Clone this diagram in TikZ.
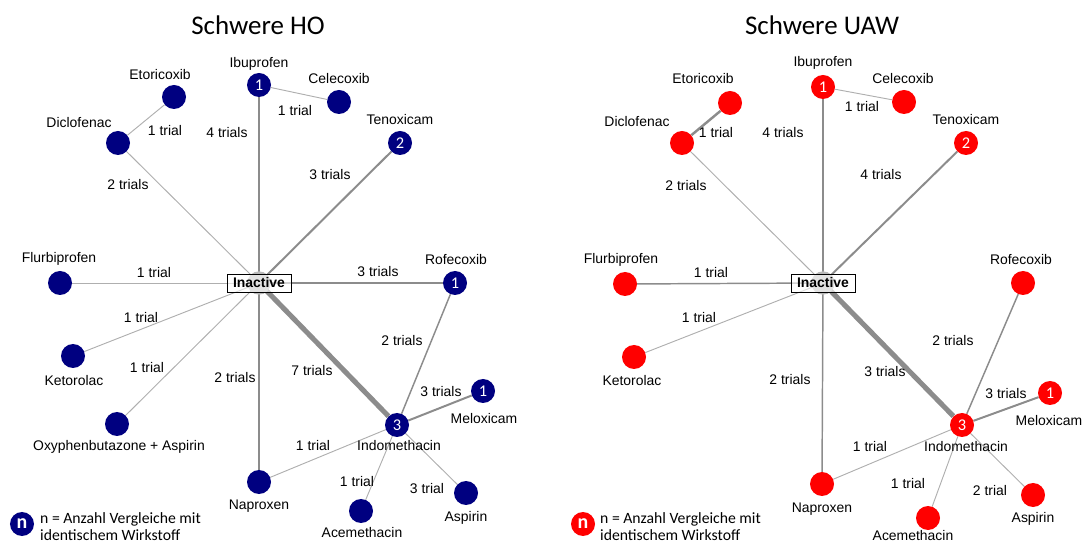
\documentclass[tikz,border=0pt]{standalone}
\usepackage{fontspec}
\setmainfont{Liberation Sans}
\newfontfamily\calibri{Carlito}
\usetikzlibrary{backgrounds}
\definecolor{hoblue}{RGB}{0,0,128}
\definecolor{uawred}{RGB}{255,0,0}
\definecolor{linegray}{RGB}{140,140,140}
\definecolor{lightgray}{RGB}{175,175,175}

\begin{document}
\begin{tikzpicture}[
    x=0.03cm, y=-0.03cm,
    font=\fontsize{11.9}{13}\selectfont,
    drug/.style={circle, inner sep=0pt, minimum size=0.72cm, text=white, font=\calibri\fontsize{14}{14}\selectfont},
    ho/.style={drug, fill=hoblue},
    uaw/.style={drug, fill=uawred},
    drugtext/.style={inner sep=0pt},
    trials/.style={inner sep=0pt},
    hub/.style={circle, fill=gray!55, minimum size=0.7cm, inner sep=0pt},
    inactive/.style={draw, fill=white, fill opacity=0.6, text opacity=1, minimum width=1.92cm, minimum height=0.54cm, inner sep=0pt, font=\bfseries\fontsize{11.9}{13}\selectfont},
    paneltitle/.style={font=\calibri\fontsize{23}{26}\selectfont},
    keytext/.style={align=left, anchor=west, inner sep=0pt, font=\calibri\fontsize{13.4}{14.5}\selectfont},
    wa/.style={lightgray, line width=0.8pt},
    wb/.style={linegray, line width=1.25pt},
    wc/.style={linegray, line width=1.7pt},
    wd/.style={linegray, line width=2.1pt},
    we/.style={linegray, line width=4.3pt}
]
\useasboundingbox (0,0) rectangle (1083,544);

% Schwere HO (left)
\node[paneltitle] (tHO) at (258,25) {Schwere HO};
\node[inactive] (inL) at (259,283) {Inactive};
\node[ho] (ibuL) at (259,85) {1};
\node[ho] (celL) at (339,102) {};
\node[ho] (etoL) at (174,97) {};
\node[ho] (dicL) at (118,143) {};
\node[ho] (tenL) at (400,143) {2};
\node[ho] (fluL) at (60,283) {};
\node[ho] (rofL) at (455,283) {1};
\node[ho] (ketL) at (73,356) {};
\node[ho] (oxyL) at (117,424) {};
\node[ho] (napL) at (259,482) {};
\node[ho] (indL) at (397,425) {3};
\node[ho] (melL) at (483,391) {1};
\node[ho] (aceL) at (361,511) {};
\node[ho] (aspL) at (466,493) {};

\node[drugtext] (ibuLt) at (259,64) {Ibuprofen};
\node[drugtext] (celLt) at (339,79) {Celecoxib};
\node[drugtext] (etoLt) at (160,75) {Etoricoxib};
\node[drugtext] (dicLt) at (79,123) {Diclofenac};
\node[drugtext] (tenLt) at (400,120) {Tenoxicam};
\node[drugtext] (fluLt) at (59,259) {Flurbiprofen};
\node[drugtext] (rofLt) at (456,260) {Rofecoxib};
\node[drugtext] (ketLt) at (74,381) {Ketorolac};
\node[drugtext] (oxyLt) at (119,447) {Oxyphenbutazone + Aspirin};
\node[drugtext] (napLt) at (259,506) {Naproxen};
\node[drugtext] (indLt) at (399,446) {Indomethacin};
\node[drugtext] (melLt) at (484,419) {Meloxicam};
\node[drugtext] (aceLt) at (362,533) {Acemethacin};
\node[drugtext] (aspLt) at (466,518) {Aspirin};

\begin{scope}[on background layer]
\foreach \i/\j/\w in {inL.center/dicL/wa, dicL/etoL/wa, inL.center/ibuL/wc, ibuL/celL/wa,
    inL.center/tenL/wc, inL.center/fluL/wa, inL.center/rofL/wc, inL.center/ketL/wa,
    inL.center/oxyL/wa, inL.center/napL/wb, inL.center/indL/we, rofL/indL/wb,
    indL/melL/wc, indL/napL/wa, indL/aceL/wa, indL/aspL/wa}
  \draw[\w] (\i) -- (\j);
\node[hub] (hubL) at (inL.center) {};
\end{scope}

\node[trials] (eL1) at (165,131) {1 trial};
\node[trials] (eL2) at (128,185) {2 trials};
\node[trials] (eL3) at (227,133) {4 trials};
\node[trials] (eL4) at (295,111) {1 trial};
\node[trials] (eL5) at (330,175) {3 trials};
\node[trials] (eL6) at (154,273) {1 trial};
\node[trials] (eL7) at (378,272) {3 trials};
\node[trials] (eL8) at (141,318) {1 trial};
\node[trials] (eL9) at (147,368) {1 trial};
\node[trials] (eL10) at (235,378) {2 trials};
\node[trials] (eL11) at (312,371) {7 trials};
\node[trials] (eL12) at (402,341) {2 trials};
\node[trials] (eL13) at (441,392) {3 trials};
\node[trials] (eL14) at (313,446) {1 trial};
\node[trials] (eL15) at (357,482) {1 trial};
\node[trials] (eL16) at (427,489) {3 trial};

\node[ho, font=\calibri\bfseries\fontsize{17}{17}\selectfont] (keyL) at (22,524) {n};
\node[keytext] (keyLt) at (40,527) {n = Anzahl Vergleiche mit\\identischem Wirkstoff};

% Schwere UAW (right)
\node[paneltitle] (tUAW) at (822,25) {Schwere UAW};
\node[inactive] (inR) at (823,283) {Inactive};
\node[uaw] (ibuR) at (823,87) {1};
\node[uaw] (celR) at (904,102) {};
\node[uaw] (etoR) at (730,103) {};
\node[uaw] (dicR) at (682,143) {};
\node[uaw] (tenR) at (966,143) {2};
\node[uaw] (fluR) at (625,284) {};
\node[uaw] (rofR) at (1023,283) {};
\node[uaw] (ketR) at (634,357) {};
\node[uaw] (napR) at (822,484) {};
\node[uaw] (indR) at (962,425) {3};
\node[uaw] (melR) at (1050,393) {1};
\node[uaw] (aceR) at (928,518) {};
\node[uaw] (aspR) at (1033,495) {};

\node[drugtext] (ibuRt) at (823,63) {Ibuprofen};
\node[drugtext] (celRt) at (903,79) {Celecoxib};
\node[drugtext] (etoRt) at (703,79) {Etoricoxib};
\node[drugtext] (dicRt) at (637,122) {Diclofenac};
\node[drugtext] (tenRt) at (966,120) {Tenoxicam};
\node[drugtext] (fluRt) at (621,260) {Flurbiprofen};
\node[drugtext] (rofRt) at (1021,260) {Rofecoxib};
\node[drugtext] (ketRt) at (632,381) {Ketorolac};
\node[drugtext] (napRt) at (822,509) {Naproxen};
\node[drugtext] (indRt) at (966,447) {Indomethacin};
\node[drugtext] (melRt) at (1049,421) {Meloxicam};
\node[drugtext] (aceRt) at (913,536) {Acemethacin};
\node[drugtext] (aspRt) at (1033,519) {Aspirin};

\begin{scope}[on background layer]
\foreach \i/\j/\w in {inR.center/dicR/wa, dicR/etoR/wd, inR.center/ibuR/wc, ibuR/celR/wa,
    inR.center/tenR/wc, inR.center/fluR/wb, inR.center/ketR/wa, inR.center/napR/wb,
    inR.center/indR/we, rofR/indR/wb, indR/melR/wc, indR/napR/wa, indR/aceR/wa, indR/aspR/wa}
  \draw[\w] (\i) -- (\j);
\node[hub] (hubR) at (inR.center) {};
\end{scope}

\node[trials] (eR1) at (716,133) {1 trial};
\node[trials] (eR2) at (686,186) {2 trials};
\node[trials] (eR3) at (783,133) {4 trials};
\node[trials] (eR4) at (862,107) {1 trial};
\node[trials] (eR5) at (881,175) {4 trials};
\node[trials] (eR6) at (711,273) {1 trial};
\node[trials] (eR7) at (699,318) {1 trial};
\node[trials] (eR8) at (790,380) {2 trials};
\node[trials] (eR9) at (885,372) {3 trials};
\node[trials] (eR10) at (953,341) {2 trials};
\node[trials] (eR11) at (1006,394) {3 trials};
\node[trials] (eR12) at (870,447) {1 trial};
\node[trials] (eR13) at (908,484) {1 trial};
\node[trials] (eR14) at (990,491) {2 trial};

\node[uaw, font=\calibri\bfseries\fontsize{17}{17}\selectfont] (keyR) at (583,524) {n};
\node[keytext] (keyRt) at (600,527) {n = Anzahl Vergleiche mit\\identischem Wirkstoff};
\end{tikzpicture}
\end{document}
